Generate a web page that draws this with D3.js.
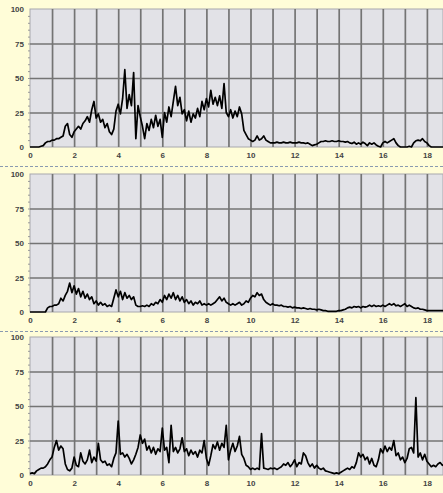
<!DOCTYPE html>
<html>
<head>
<meta charset="utf-8">
<script src="https://cdn.jsdelivr.net/npm/d3@7"></script>
<style>
  body { margin: 0; background: #fffdd8; }
  svg { display: block; }
  .tick text { font-family: "Liberation Sans", Arial, sans-serif; font-size: 8px; font-weight: bold; fill: #444; }
</style>
</head>
<body>
<svg id="chart" width="443" height="493"></svg>
<script>
'use strict';

// one sample every xStep units, starting at 0
var xStep = 0.1;
var xTickLabels = [0, 2, 4, 6, 8, 10, 12, 14, 16, 18];
var yTickLabels = [0, 25, 50, 75, 100];

var seriesTop = [
  0,0,0,0,0,0.5,1,3,4,4, 5,5,6,6,7,8,15,17,9,7,
  11,13,15,13,17,19,22,18,27,33, 21,24,18,20,14,17,11,9,13,26,
  31,24,35,56,28,38,30,54,6,30, 22,15,6,17,12,20,14,23,15,20,
  7,25,18,29,22,33,44,30,36,24, 27,19,26,18,24,21,28,22,33,27,
  35,29,41,31,36,30,37,28,46,25, 22,27,21,26,22,29,24,12,9,6,
  5,4,5,8,5,6,8,5,4,3, 3,3,3.5,3,3,3.5,3,3,3.5,3,
  3,3,3.5,3,3,2.5,3,2,1,1.5, 2,3,4,4,4.5,4,4,4.5,4,4,
  4.5,4,4,3.5,4,3,2.5,3.5,2,3, 2,3.5,2.5,1,3,2,3,1.5,0.5,0,
  3,4,3,4,5,6,3,1,0,0, 0,0,0.5,0,3,4.5,5,4.5,6,4,
  3,1,0,0,0,0,0,0,0
];

var seriesMiddle = [
  0,0,0,0,0,0,0,0,3,4, 4,5,5,6,10,8,12,15,21,14,
  19,13,17,11,15,10,13,9,11,6, 8,5,7,5,6,4,5,4,10,16,
  11,15,9,14,10,12,9,11,5,4, 4,4.5,4,5,4,6,5,7,6,9,
  7,12,9,13,10,14,9,12,8,11, 7,9,6,8,5,7,6,8,5,6,
  5,6,5,6,7,9,11,8,10,7, 6,5,6,5,6,7,5,6,8,7,
  10,12,11,14,12,13,9,7,6,5, 6,5,5,4.5,5,4,4,3.5,4,3,
  3.5,3,3,2.5,3,2.5,2,2.5,2,2, 1.5,2,1.5,1,1,0.5,0.5,0.5,0.5,0.5,
  1,1,1.5,2,3,3.5,3,4,3.5,4, 3,4,3.5,4,5,4,5,4,4.5,4,
  5,4,5,6,5,6,4.5,5,4,5, 6,4,5,4,3,2.5,3,2,2,1.5,
  1,1,1,1,1,1,1,1,1
];

var seriesBottom = [
  1,1.5,1,3,4,5,5,6,8,11, 13,20,25,18,21,19,8,4,3,5,
  13,7,6,16,10,8,11,18,9,13, 10,23,11,9,10,7,8,6,12,16,
  39,15,16,13,15,12,8,11,15,20, 29,23,26,18,21,16,20,15,19,17,
  34,18,20,9,36,17,20,16,19,27, 17,19,14,18,15,17,13,18,16,25,
  12,7,14,22,19,24,18,23,20,36, 11,18,23,17,21,28,15,12,7,6,
  4,5,4,5,4,30,5,4.5,4,5, 4.5,5,4,5,6,8,7,9,6,8,
  11,6,9,8,16,14,9,6,8,5, 7,5,4,5,3,2.5,2,1.5,1,1.5,
  1,2,3,4,5,4,6,5,9,16, 13,15,11,13,8,12,7,6,11,19,
  16,21,17,20,18,25,14,16,11,13, 9,12,19,20,16,56,13,16,11,15,
  10,8,6,7,6,8,9,7,8
];

var panels = [
  { values: seriesTop, top: 9 },
  { values: seriesMiddle, top: 174 },
  { values: seriesBottom, top: 337 }
];
var separators = [166, 331];

var svg = d3.select('#chart');
var W = +svg.attr('width');
var plotLeft = 30, unitPx = 22.05, plotH = 138;

svg.append('rect').attr('width', W).attr('height', +svg.attr('height')).attr('fill', '#fffdd8');

var x = d3.scaleLinear().domain([0, 20]).range([plotLeft, plotLeft + 20 * unitPx]);

panels.forEach(function (p) {
  var y = d3.scaleLinear().domain([0, 100]).range([p.top + plotH, p.top]);
  var g = svg.append('g');

  g.append('rect')
    .attr('x', plotLeft).attr('y', p.top)
    .attr('width', W - plotLeft).attr('height', plotH)
    .attr('fill', '#e2e2e7')
    .attr('stroke', '#a8a8ae').attr('stroke-width', 1);

  // vertical grid, every unit
  g.append('g')
    .attr('transform', 'translate(0,' + (p.top + plotH) + ')')
    .call(d3.axisBottom(x).tickValues(d3.range(1, 20)).tickSize(-plotH).tickFormat(''))
    .call(function (s) { s.select('.domain').remove(); })
    .selectAll('line').attr('stroke', '#747474').attr('stroke-width', 1.7);

  // horizontal grid
  g.append('g')
    .attr('transform', 'translate(' + plotLeft + ',0)')
    .call(d3.axisLeft(y).tickValues([25, 50, 75]).tickSize(-(W - plotLeft)).tickFormat(''))
    .call(function (s) { s.select('.domain').remove(); })
    .selectAll('line').attr('stroke', '#747474').attr('stroke-width', 1.7);

  // small minor ticks on the left edge
  g.append('g')
    .attr('transform', 'translate(' + plotLeft + ',0)')
    .call(d3.axisLeft(y).tickValues(d3.range(5, 100, 5)).tickSize(2).tickFormat(''))
    .call(function (s) { s.select('.domain').remove(); })
    .selectAll('line').attr('stroke', '#999');

  // y labels
  g.append('g')
    .attr('transform', 'translate(' + plotLeft + ',0)')
    .call(d3.axisLeft(y).tickValues(yTickLabels).tickSize(0).tickPadding(6))
    .call(function (s) { s.select('.domain').remove(); });

  // x labels
  g.append('g')
    .attr('transform', 'translate(0,' + (p.top + plotH) + ')')
    .call(d3.axisBottom(x).tickValues(xTickLabels).tickSize(0).tickPadding(5))
    .call(function (s) { s.select('.domain').remove(); });

  var line = d3.line()
    .x(function (d, i) { return x(i * xStep); })
    .y(function (d) { return y(d); });

  g.append('path')
    .datum(p.values)
    .attr('fill', 'none')
    .attr('stroke', '#000')
    .attr('stroke-width', 1.7)
    .attr('stroke-linejoin', 'round')
    .attr('d', line);
});

svg.selectAll('.sep')
  .data(separators)
  .enter().append('line')
  .attr('class', 'sep')
  .attr('x1', 0).attr('x2', W)
  .attr('y1', function (d) { return d + 0.5; }).attr('y2', function (d) { return d + 0.5; })
  .attr('stroke', '#8a9ab0')
  .attr('stroke-dasharray', '3,2');
</script>
</body>
</html>
